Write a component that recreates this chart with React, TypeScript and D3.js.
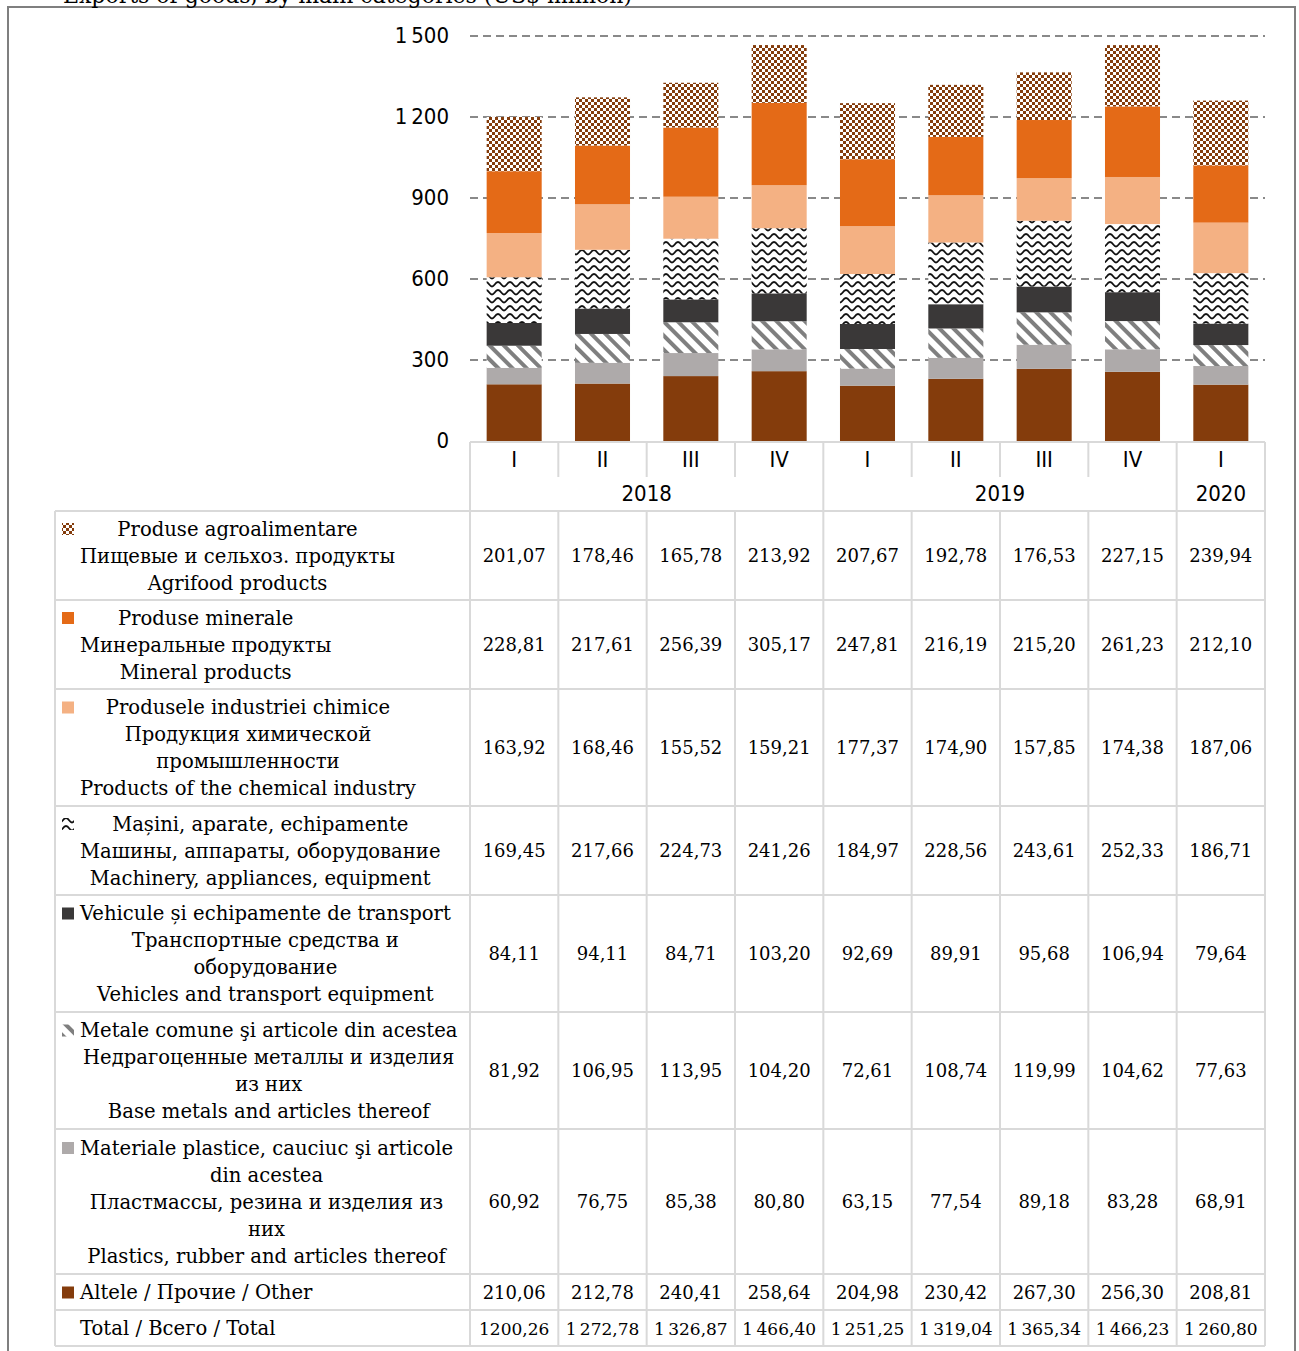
import React, { useRef, useEffect } from "react";
import * as d3 from "d3";

// quarters on the x axis, grouped by year
const quarters = ["I", "II", "III", "IV", "I", "II", "III", "IV", "I"];
const years = ["2018", "2019", "2020"];
const yearSpans = [4, 4, 1];
const yTicks = [0, 300, 600, 900, 1200, 1500];

// exports by category, US$ million
const agrifood = [201.07, 178.46, 165.78, 213.92, 207.67, 192.78, 176.53, 227.15, 239.94];
const mineral = [228.81, 217.61, 256.39, 305.17, 247.81, 216.19, 215.2, 261.23, 212.1];
const chemical = [163.92, 168.46, 155.52, 159.21, 177.37, 174.9, 157.85, 174.38, 187.06];
const machinery = [169.45, 217.66, 224.73, 241.26, 184.97, 228.56, 243.61, 252.33, 186.71];
const vehicles = [84.11, 94.11, 84.71, 103.2, 92.69, 89.91, 95.68, 106.94, 79.64];
const metals = [81.92, 106.95, 113.95, 104.2, 72.61, 108.74, 119.99, 104.62, 77.63];
const plastics = [60.92, 76.75, 85.38, 80.8, 63.15, 77.54, 89.18, 83.28, 68.91];
const other = [210.06, 212.78, 240.41, 258.64, 204.98, 230.42, 267.3, 256.3, 208.81];
const totals = ["1200,26", "1 272,78", "1 326,87", "1 466,40", "1 251,25", "1 319,04", "1 365,34", "1 466,23", "1 260,80"];

const labels: Record<string, string[]> = {
  agrifood: ["Produse agroalimentare", "Пищевые и сельхоз. продукты", "Agrifood products"],
  mineral: ["Produse minerale", "Минеральные продукты", "Mineral products"],
  chemical: ["Produsele industriei chimice", "Продукция химической", "промышленности", "Products of the chemical industry"],
  machinery: ["Mașini, aparate, echipamente", "Машины, аппараты, оборудование", "Machinery, appliances, equipment"],
  vehicles: ["Vehicule și echipamente de transport", "Транспортные средства и", "оборудование", "Vehicles and transport equipment"],
  metals: ["Metale comune şi articole din acestea", "Недрагоценные металлы и изделия", "из них", "Base metals and articles thereof"],
  plastics: ["Materiale plastice, cauciuc şi articole", "din acestea", "Пластмассы, резина и изделия из", "них", "Plastics, rubber and articles thereof"],
  other: ["Altele / Прочие / Other"],
  total: ["Total / Всего / Total"],
};

const values: Record<string, number[]> = { agrifood, mineral, chemical, machinery, vehicles, metals, plastics, other };
const stackOrder = ["other", "plastics", "metals", "vehicles", "machinery", "chemical", "mineral", "agrifood"];
const tableOrder = ["agrifood", "mineral", "chemical", "machinery", "vehicles", "metals", "plastics", "other", "total"];

const fills: Record<string, string> = {
  agrifood: "url(#pat-check)",
  mineral: "#E46A17",
  chemical: "#F4B183",
  machinery: "url(#pat-wave)",
  vehicles: "#3A3838",
  metals: "url(#pat-stripe)",
  plastics: "#AEAAAA",
  other: "#843C0C",
};

const W = 1299, H = 1351;
const serif = "'DejaVu Serif', serif";
const narrow = "'Liberation Sans Narrow', 'DejaVu Sans Condensed', sans-serif";

export default function App() {
  const svgRef = useRef<SVGSVGElement>(null);

  useEffect(() => {
    const svg = d3.select(svgRef.current);
    svg.selectAll("*").remove();

    const left = 470, right = 1265, tabLeft = 55;
    const cols = d3.scaleBand<number>().domain(d3.range(quarters.length)).range([left, right]);
    const step = cols.step();
    const x = d3.scaleBand<number>().domain(d3.range(quarters.length)).range([left, right])
      .paddingInner(0.377).paddingOuter(0.1885);
    const y = d3.scaleLinear().domain([0, 1500]).range([441, 36]);
    const fmt = d3.formatLocale({ decimal: ",", thousands: "\u2009", grouping: [3], currency: ["", ""] }).format(",d");

    // patterns
    const defs = svg.append("defs");
    const chk = defs.append("pattern").attr("id", "pat-check").attr("patternUnits", "userSpaceOnUse")
      .attr("width", 6).attr("height", 6);
    chk.append("rect").attr("width", 6).attr("height", 6).attr("fill", "#fff");
    chk.append("rect").attr("width", 3).attr("height", 3).attr("fill", "#843C0C");
    chk.append("rect").attr("x", 3).attr("y", 3).attr("width", 3).attr("height", 3).attr("fill", "#843C0C");

    const wave = defs.append("pattern").attr("id", "pat-wave").attr("patternUnits", "userSpaceOnUse")
      .attr("width", 12).attr("height", 8);
    wave.append("rect").attr("width", 12).attr("height", 8).attr("fill", "#fff");
    wave.append("path").attr("d", "M0,6.5 C2.5,6.5 3,2 6,2 C9,2 9.5,6.5 12,6.5")
      .attr("fill", "none").attr("stroke", "#111").attr("stroke-width", 1.8);

    const str = defs.append("pattern").attr("id", "pat-stripe").attr("patternUnits", "userSpaceOnUse")
      .attr("width", 10).attr("height", 10).attr("patternTransform", "rotate(-45)");
    str.append("rect").attr("width", 10).attr("height", 10).attr("fill", "#fff");
    str.append("rect").attr("width", 4).attr("height", 10).attr("fill", "#7F7F7F");

    // outer frame and clipped title
    svg.append("rect").attr("x", 8).attr("y", 7).attr("width", 1287).attr("height", 1360)
      .attr("fill", "none").attr("stroke", "#7F7F7F").attr("stroke-width", 2);
    svg.append("text").attr("x", 632).attr("y", 3).attr("text-anchor", "end")
      .attr("font-family", serif).attr("font-size", 22).attr("fill", "#000")
      .text("Exports of goods, by main categories (US$ million)");

    // grid + y labels
    const g = svg.append("g");
    g.selectAll("line.grid").data(yTicks.filter(t => t > 0)).join("line")
      .attr("x1", left).attr("x2", right).attr("y1", d => y(d)).attr("y2", d => y(d))
      .attr("stroke", "#898989").attr("stroke-width", 2).attr("stroke-dasharray", "8,5");
    g.selectAll("text.tick").data(yTicks).join("text")
      .attr("x", 449).attr("y", d => y(d) + 7).attr("text-anchor", "end")
      .attr("font-family", narrow).attr("font-size", 22).attr("fill", "#000")
      .text(d => fmt(d));

    // stacked bars
    const rows = quarters.map((_, i) => {
      const r: Record<string, number> = { i };
      stackOrder.forEach(k => (r[k] = values[k][i]));
      return r;
    });
    const stacked = d3.stack<Record<string, number>>().keys(stackOrder)(rows);
    const bars = svg.append("g");
    stacked.forEach(layer => {
      bars.append("g").attr("fill", fills[layer.key]).selectAll("rect").data(layer).join("rect")
        .attr("x", (d, i) => x(i)!).attr("width", x.bandwidth())
        .attr("y", d => y(d[1])).attr("height", d => y(d[0]) - y(d[1]));
    });

    // table
    const lineCol = "#D9D9D9";
    const t = svg.append("g");
    const hdrTop = 442, hdrMid = 477, hdrBot = 511;
    quarters.forEach((q, i) => {
      t.append("text").attr("x", cols(i)! + step / 2).attr("y", 467).attr("text-anchor", "middle")
        .attr("font-family", narrow).attr("font-size", 22).attr("fill", "#000").text(q);
    });
    let acc = 0;
    const yearEdges = [0];
    years.forEach((yr, k) => {
      const a = acc, b = acc + yearSpans[k];
      t.append("text").attr("x", left + ((a + b) / 2) * step).attr("y", 501).attr("text-anchor", "middle")
        .attr("font-family", narrow).attr("font-size", 22).attr("fill", "#000").text(yr);
      acc = b;
      yearEdges.push(b);
    });

    // row bounds
    const rowY = [hdrBot];
    tableOrder.forEach(k => {
      const n = labels[k].length;
      rowY.push(rowY[rowY.length - 1] + (n === 1 ? 36 : 5 + 28 * n));
    });
    const tabBot = rowY[rowY.length - 1];

    const hl = (x1: number, x2: number, yy: number) =>
      t.append("line").attr("x1", x1).attr("x2", x2).attr("y1", yy).attr("y2", yy).attr("stroke", lineCol).attr("stroke-width", 2);
    const vl = (xx: number, y1: number, y2: number) =>
      t.append("line").attr("x1", xx).attr("x2", xx).attr("y1", y1).attr("y2", y2).attr("stroke", lineCol).attr("stroke-width", 2);

    hl(left, right, hdrTop);
    d3.range(quarters.length + 1).forEach(i => {
      const xx = left + i * step;
      vl(xx, hdrTop, yearEdges.includes(i) ? hdrBot : hdrMid);
      vl(xx, hdrBot, tabBot);
    });
    vl(tabLeft, hdrBot, tabBot);
    rowY.forEach(yy => hl(tabLeft, right, yy));

    const lh = 27;
    tableOrder.forEach((k, r) => {
      const top = rowY[r], bot = rowY[r + 1], mid = (top + bot) / 2;
      const lines = labels[k];
      const first = mid - ((lines.length - 1) * lh) / 2 + 7;
      const texts = lines.map((s, j) =>
        t.append("text").attr("y", first + j * lh).attr("font-family", serif).attr("font-size", 19.6)
          .attr("fill", "#000").text(s));
      const ws = texts.map(tx => (tx.node() as SVGTextElement).getComputedTextLength());
      const maxW = d3.max(ws) || 0;
      texts.forEach((tx, j) => tx.attr("x", 80 + (maxW - ws[j]) / 2));
      if (fills[k]) {
        t.append("rect").attr("x", 62).attr("y", first - 12.5).attr("width", 12).attr("height", 12)
          .attr("fill", fills[k]);
      }
      const isTotal = k === "total";
      const cells = isTotal ? totals.map(s => s.replace(" ", "\u2009")) : values[k].map(v => v.toFixed(2).replace(".", ","));
      cells.forEach((c, i) => {
        t.append("text").attr("x", cols(i)! + step / 2).attr("y", mid + 6.5).attr("text-anchor", "middle")
          .attr("font-family", serif).attr("font-size", isTotal ? 17 : 18).attr("fill", "#000").text(c);
      });
    });
  }, []);

  return (
    <svg ref={svgRef} width={W} height={H}
      style={{ position: "absolute", left: 0, top: 0, background: "#fff" }} />
  );
}
